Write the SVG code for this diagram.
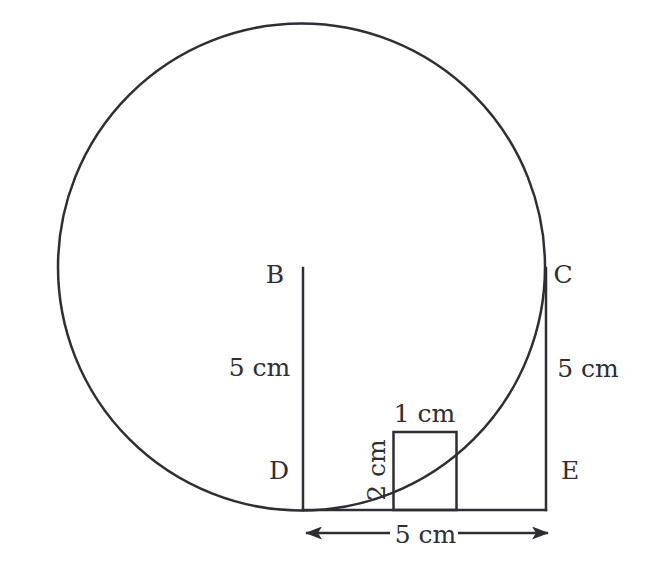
<svg xmlns="http://www.w3.org/2000/svg" width="670" height="576" viewBox="0 0 670 576">
<style>
.s{fill:none;stroke:#2e2e33;stroke-width:2.5;stroke-linecap:square}
.t{font-family:"DejaVu Serif","Liberation Serif",serif;font-size:25px;fill:#2e2e33;text-anchor:middle}
</style>
<defs>
<marker id="ah" viewBox="0 0 17 13" refX="16" refY="6.5" markerWidth="17" markerHeight="13" markerUnits="userSpaceOnUse" orient="auto-start-reverse">
<path d="M0,0 L17,6.5 L0,13 L4,6.5 Z" fill="#2e2e33"/>
</marker>
</defs>
<rect width="670" height="576" fill="#fff"/>
<g id="circle"><circle class="s" cx="301.5" cy="267" r="243.5"/></g>
<g id="connectors">
<line class="s" x1="303" y1="268" x2="303" y2="510"/>
<line class="s" x1="303" y1="510" x2="546" y2="510"/>
<line class="s" x1="546" y1="268" x2="546" y2="510"/>
<rect class="s" x="393.5" y="432" width="63" height="78"/>
<line class="s" x1="390" y1="533" x2="306" y2="533" marker-end="url(#ah)" style="stroke-linecap:butt"/>
<line class="s" x1="458" y1="533" x2="548" y2="533" marker-end="url(#ah)" style="stroke-linecap:butt"/>
</g>
<g id="labels">
<text class="t" x="275" y="283">B</text>
<text class="t" x="563" y="283">C</text>
<text class="t" x="279" y="479">D</text>
<text class="t" x="570" y="479">E</text>
<text class="t" x="259.5" y="376">5 cm</text>
<text class="t" x="588" y="377">5 cm</text>
<text class="t" x="424.5" y="422">1 cm</text>
<text class="t" transform="translate(385,470) rotate(-90)">2 cm</text>
<text class="t" x="425.5" y="543">5 cm</text>
</g>
</svg>
